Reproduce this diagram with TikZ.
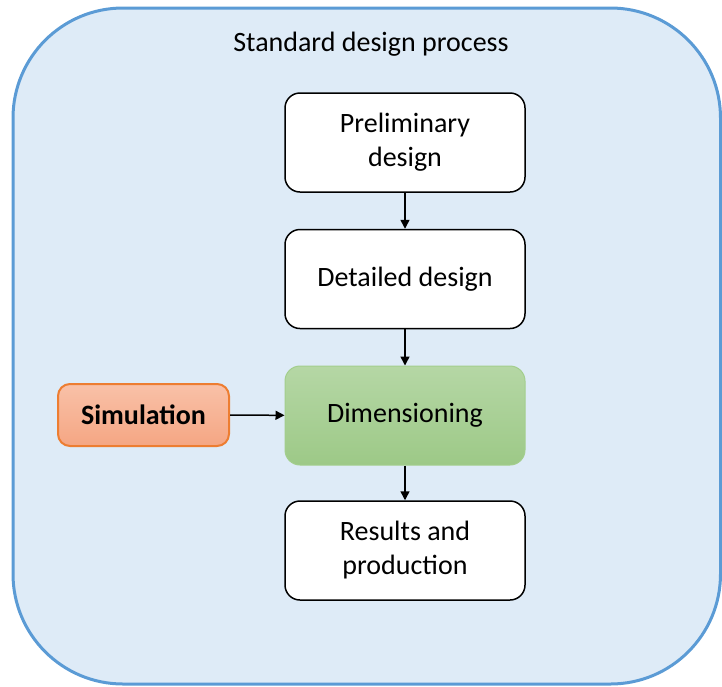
\documentclass[tikz,border=0pt]{standalone}
\usepackage{fontspec}
\setmainfont{Carlito}
\usepackage{xcolor}
\usetikzlibrary{arrows.meta, positioning, calc}

\definecolor{outerfill}{HTML}{DEEBF7}
\definecolor{outerline}{HTML}{5B9BD5}
\definecolor{greentop}{HTML}{B5D7A5}
\definecolor{greenbot}{HTML}{9DC987}
\definecolor{greenline}{HTML}{A3CE8D}
\definecolor{orangetop}{HTML}{F9C1A8}
\definecolor{orangebot}{HTML}{F5A683}
\definecolor{orangeline}{HTML}{ED7D31}

\begin{document}
\begin{tikzpicture}[x=1pt, y=-1pt,
    font=\fontsize{28}{34}\selectfont,
    stage/.style={draw=black, line width=1.5pt, fill=white, rounded corners=15pt,
      minimum width=240pt, minimum height=99pt, align=center, inner sep=0pt},
    flow/.style={-{Triangle[length=9pt,width=9pt]}, line width=1.5pt}]
        \useasboundingbox (0,0) rectangle (722,686);
        % frame
        \draw[fill=outerfill, draw=outerline, line width=3pt, rounded corners=110pt] (13,8) rectangle (720.5,684);
        \node (title) at (371,44) {Standard design process};
        % stages
        \node[stage] (prelim) at (405,142.5) {Preliminary\\design};
        \node[stage] (detail) at (405,279) {Detailed design};
        \node[stage, draw=greenline, line width=1pt, top color=greentop, bottom color=greenbot] (dimen) at (405,415.5) {Dimensioning};
        \node[stage] (result) at (405,550.5) {Results and\\production};
        \node[draw=orangeline, line width=2pt, rounded corners=12pt, top color=orangetop, bottom color=orangebot,
          minimum width=171pt, minimum height=62pt, inner sep=0pt, font=\fontsize{28}{34}\selectfont\bfseries] (sim) at (143.5,415) {Simulation};
        % arrows
        \draw[flow] (prelim) -- (detail);
        \draw[flow] (detail) -- (dimen);
        \draw[flow] (dimen) -- (result);
        \draw[flow] (sim) -- (dimen);
      \end{tikzpicture}
\end{document}
